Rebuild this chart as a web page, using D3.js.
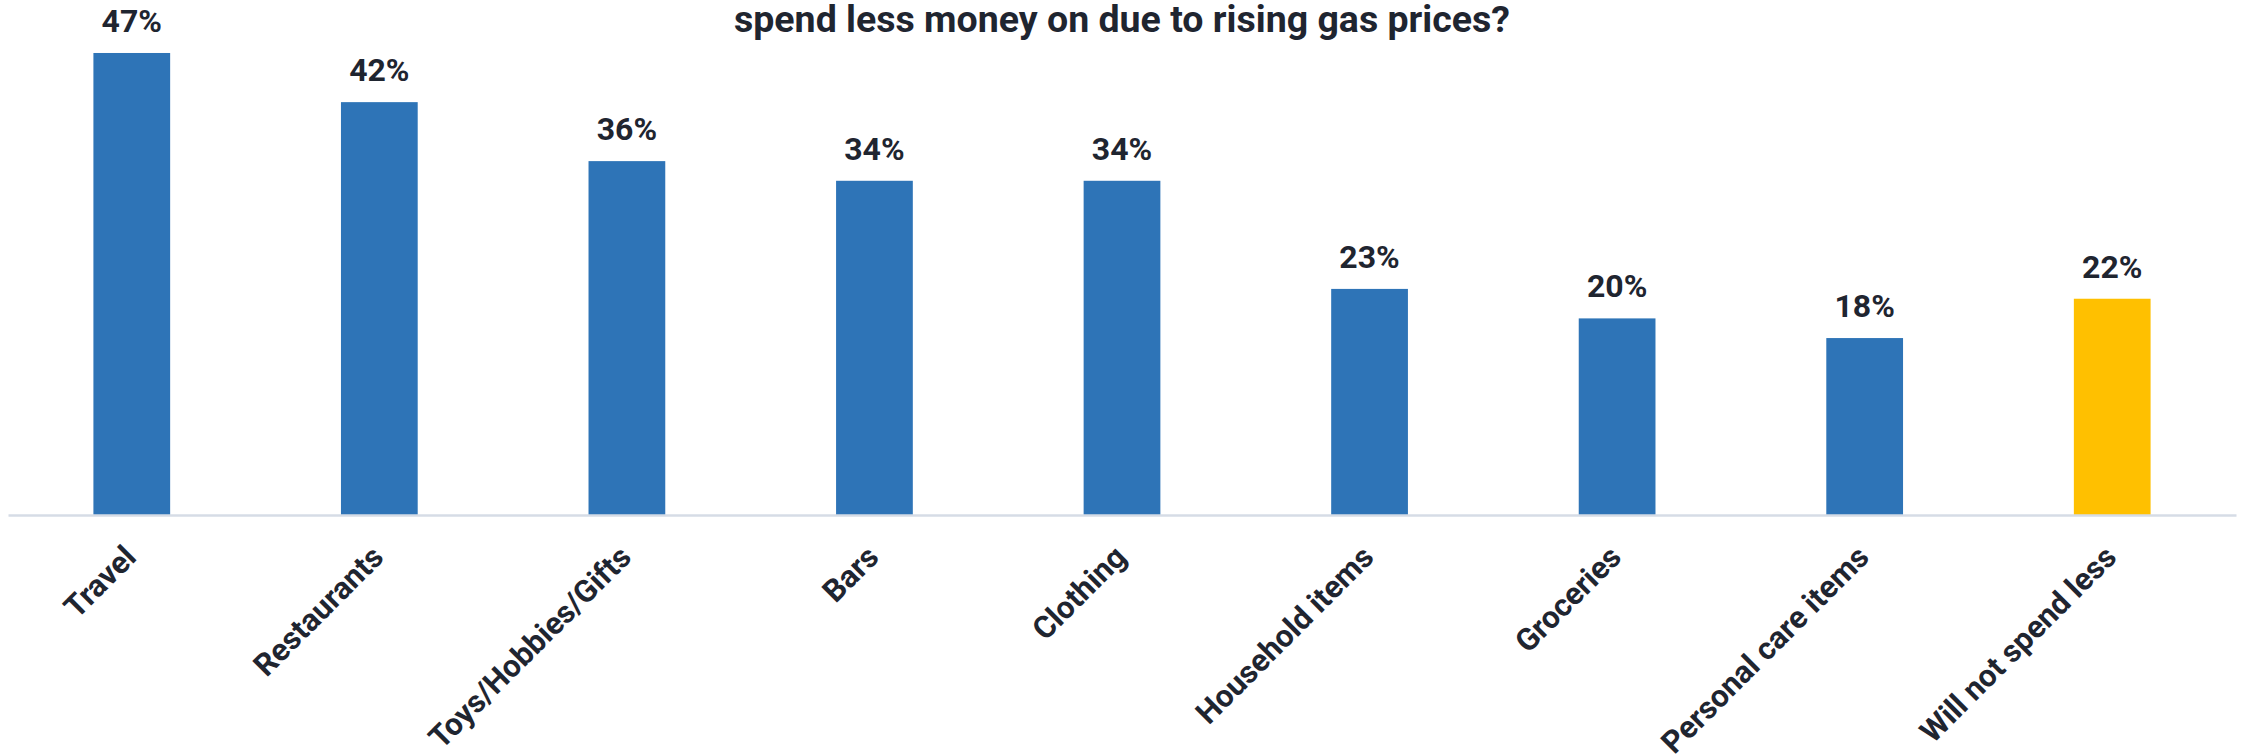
<!DOCTYPE html>
<html>
<head>
<meta charset="utf-8">
<script src="https://cdn.jsdelivr.net/npm/d3@7"></script>
<style>
  html, body { margin: 0; padding: 0; background: #ffffff; }
  svg { display: block; }
  text { font-family: Roboto, "Noto Sans", sans-serif; font-weight: 700; fill: #1f2530; }
</style>
</head>
<body>
<svg id="chart" width="2244" height="755"></svg>
<script>
// Survey categories and share of respondents (%)
const categories = ["Travel", "Restaurants", "Toys/Hobbies/Gifts", "Bars", "Clothing",
                    "Household items", "Groceries", "Personal care items", "Will not spend less"];
const values = [47, 42, 36, 34, 34, 23, 20, 18, 22];
const highlighted = ["Will not spend less"];
const titleLine = "spend less money on due to rising gas prices?";

const W = 2244, H = 755;
const svg = d3.select("#chart");

const x = d3.scaleBand()
  .domain(categories)
  .range([8, 2236])
  .paddingInner(0.69)
  .paddingOuter(0.345);

const y = d3.scaleLinear()
  .domain([0, 50])
  .range([515, 23.5]);

// Title (second line of the question)
svg.append("text")
  .attr("x", W / 2)
  .attr("y", 32)
  .attr("text-anchor", "middle")
  .style("font-size", "37.5px")
  .text(titleLine);

// Bars
svg.append("g")
  .selectAll("rect")
  .data(categories)
  .join("rect")
  .attr("x", d => x(d))
  .attr("width", x.bandwidth())
  .attr("y", (d, i) => y(values[i]))
  .attr("height", (d, i) => y(0) - y(values[i]))
  .attr("fill", d => highlighted.includes(d) ? "#ffc000" : "#2e74b7");

// Value labels
svg.append("g")
  .selectAll("text")
  .data(categories)
  .join("text")
  .attr("x", d => x(d) + x.bandwidth() / 2)
  .attr("y", (d, i) => y(values[i]) - 21)
  .attr("text-anchor", "middle")
  .style("font-size", "32px")
  .text((d, i) => values[i] + "%");

// Category axis
const axis = svg.append("g")
  .attr("transform", `translate(0,${y(0)})`)
  .call(d3.axisBottom(x).tickSize(0).tickPadding(0));

axis.select(".domain")
  .attr("stroke", "#d6dce6")
  .attr("stroke-width", 2.5);

axis.selectAll(".tick text")
  .attr("fill", "#1f2530")
  .attr("font-family", null)
  .attr("font-size", null)
  .style("font-size", "31px")
  .attr("text-anchor", "end")
  .attr("dy", null)
  .attr("y", 0)
  .attr("transform", "translate(6,44) rotate(-45)");
</script>
</body>
</html>
